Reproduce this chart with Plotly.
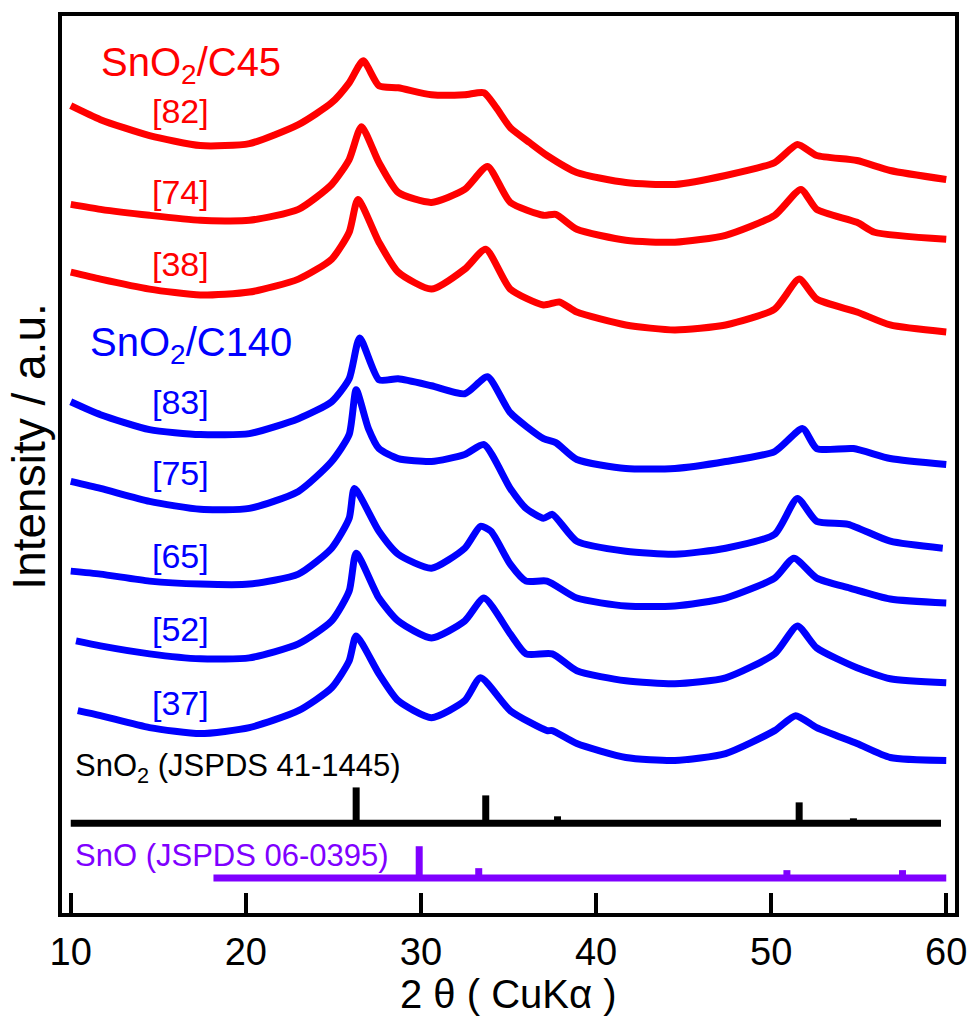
import plotly.graph_objects as go

# ---------------- data (2θ in degrees, intensity in arbitrary units incl. offsets) -------------
c45_82_x = [10.0, 11.7, 14.5, 17.4, 20.2, 23.0, 24.9, 25.9, 26.7, 27.6, 28.7, 30.6, 32.5, 33.6, 34.3, 35.1, 36.2, 37.2, 38.9, 41.7, 44.5, 47.4, 50.2, 51.5, 52.6, 54.9, 56.8, 60.0]
c45_82_y = [810, 796, 780, 770, 772, 791, 813, 833, 855, 830, 828, 821, 821, 823, 808, 788, 773, 760, 743, 733, 731, 740, 753, 771, 760, 755, 745, 736]

c45_74_x = [10.0, 11.7, 14.5, 17.4, 20.2, 23.0, 24.9, 25.9, 26.6, 27.6, 28.7, 30.6, 32.5, 33.8, 35.1, 37.0, 37.7, 38.9, 41.7, 44.5, 47.4, 50.2, 51.7, 52.6, 54.9, 55.9, 60.0]
c45_74_y = [711, 706, 700, 695, 695, 706, 731, 756, 789, 753, 723, 713, 726, 749, 713, 700, 701, 686, 675, 673, 680, 700, 726, 706, 693, 683, 676]

c45_38_x = [10.0, 11.7, 14.5, 17.4, 20.2, 23.0, 24.9, 25.9, 26.4, 27.6, 28.7, 30.6, 32.5, 33.7, 35.1, 37.0, 37.9, 38.9, 41.7, 44.5, 47.4, 50.2, 51.6, 52.6, 54.9, 56.8, 60.0]
c45_38_y = [643, 636, 626, 620, 623, 636, 656, 683, 716, 673, 643, 626, 646, 666, 626, 610, 613, 603, 590, 585, 590, 606, 636, 616, 603, 590, 583]

c140_83_x = [10.0, 11.7, 14.5, 17.4, 20.2, 23.0, 24.9, 25.9, 26.5, 27.6, 28.7, 30.6, 32.5, 33.8, 35.1, 37.0, 37.7, 38.9, 41.7, 44.5, 47.4, 50.2, 51.8, 52.6, 54.7, 56.8, 60.0]
c140_83_y = [513, 500, 485, 480, 481, 496, 513, 536, 577, 535, 536, 529, 521, 538, 502, 476, 472, 455, 446, 446, 453, 463, 486, 466, 466, 456, 450]

c140_75_x = [10.0, 11.7, 14.5, 17.4, 20.2, 23.0, 24.9, 25.9, 26.3, 27.0, 27.6, 28.7, 30.6, 32.5, 33.6, 35.1, 36.0, 37.0, 37.5, 38.9, 41.7, 44.5, 47.4, 50.2, 51.5, 52.6, 54.4, 56.8, 59.8]
c140_75_y = [433, 426, 413, 405, 406, 423, 453, 480, 525, 486, 466, 456, 453, 460, 470, 426, 406, 396, 400, 373, 363, 360, 366, 380, 416, 393, 390, 373, 366]

c140_65_x = [10.0, 11.7, 14.5, 17.4, 20.2, 23.0, 24.9, 25.9, 26.2, 27.6, 28.7, 30.6, 32.5, 33.4, 34.0, 35.1, 36.0, 37.2, 38.9, 41.7, 44.5, 47.4, 50.2, 51.3, 52.6, 54.5, 56.8, 60.0]
c140_65_y = [343, 340, 333, 330, 330, 340, 366, 396, 426, 383, 360, 346, 366, 388, 383, 350, 333, 333, 316, 308, 308, 316, 336, 356, 336, 326, 315, 311]

c140_52_x = [10.3, 11.7, 14.5, 17.4, 20.2, 23.0, 24.9, 25.9, 26.3, 27.6, 28.7, 30.6, 32.5, 33.6, 35.1, 36.0, 37.5, 38.9, 41.7, 44.5, 47.4, 50.2, 51.5, 52.6, 54.9, 56.8, 60.0]
c140_52_y = [273, 268, 260, 255, 256, 270, 293, 323, 361, 316, 293, 276, 293, 316, 280, 260, 260, 243, 233, 230, 236, 260, 288, 266, 246, 235, 231]

c140_37_x = [10.4, 11.7, 14.5, 17.4, 20.2, 23.0, 24.9, 25.9, 26.3, 27.6, 28.7, 30.6, 32.5, 33.4, 35.1, 37.2, 37.5, 38.9, 41.7, 44.5, 47.4, 50.2, 51.4, 52.6, 54.9, 56.8, 60.0]
c140_37_y = [203, 198, 186, 180, 186, 203, 226, 253, 278, 240, 213, 196, 213, 236, 203, 183, 183, 170, 156, 153, 160, 183, 198, 186, 170, 156, 153]

# reference patterns
sno2_base = 90
sno2_range = [10.0, 59.7]
sno2_pos = [26.3, 33.7, 37.8, 51.6, 54.7]
sno2_int = [36, 28, 7, 21, 5]

sno_base = 35
sno_range = [18.15, 60.0]
sno_pos = [29.9, 33.3, 37.2, 47.8, 50.9, 57.5]
sno_int = [32, 10, 3, 3, 8, 8]

tick_vals = [10, 20, 30, 40, 50, 60]

# sample labels: (text, x, y, colour, size)
labels = [
    ("SnO<sub>2</sub>/C45", 11.6, 851, "#ff0000", 40),
    ("[82]", 14.5, 805, "#ff0000", 34),
    ("[74]", 14.5, 723, "#ff0000", 34),
    ("[38]", 14.5, 651, "#ff0000", 34),
    ("SnO<sub>2</sub>/C140", 11.0, 570, "#0000ff", 40),
    ("[83]", 14.5, 513, "#0000ff", 34),
    ("[75]", 14.5, 441, "#0000ff", 34),
    ("[65]", 14.5, 358, "#0000ff", 34),
    ("[52]", 14.5, 285, "#0000ff", 34),
    ("[37]", 14.5, 211, "#0000ff", 34),
    ("SnO<sub>2</sub> (JSPDS 41-1445)", 10.15, 145, "#000000", 31),
    ("SnO (JSPDS 06-0395)", 10.1, 58, "#7f00ff", 31),
]

RED = "#ff0000"
BLUE = "#0000ff"
PURPLE = "#7f00ff"
FONT = "Liberation Sans, Arial, sans-serif"

fig = go.Figure()

curves = [
    (c45_82_x, c45_82_y, RED), (c45_74_x, c45_74_y, RED), (c45_38_x, c45_38_y, RED),
    (c140_83_x, c140_83_y, BLUE), (c140_75_x, c140_75_y, BLUE), (c140_65_x, c140_65_y, BLUE),
    (c140_52_x, c140_52_y, BLUE), (c140_37_x, c140_37_y, BLUE),
]
for xs, ys, col in curves:
    fig.add_trace(go.Scatter(x=xs, y=ys, mode="lines",
                             line=dict(color=col, width=7, shape="spline", smoothing=0.6),
                             showlegend=False, hoverinfo="skip"))


def stick_trace(base, rng, pos, ints, col):
    xs = [rng[0], rng[1], None]
    ys = [base, base, None]
    for p, h in zip(pos, ints):
        xs += [p, p, None]
        ys += [base, base + h, None]
    return go.Scatter(x=xs, y=ys, mode="lines", line=dict(color=col, width=7),
                      showlegend=False, hoverinfo="skip")


fig.add_trace(stick_trace(sno2_base, sno2_range, sno2_pos, sno2_int, "#000000"))
fig.add_trace(stick_trace(sno_base, sno_range, sno_pos, sno_int, PURPLE))

for text, x, y, col, size in labels:
    fig.add_annotation(x=x, y=y, text=text, showarrow=False, xanchor="left", yanchor="middle",
                       font=dict(family=FONT, size=size, color=col))

# axis titles as annotations for exact placement
fig.add_annotation(xref="paper", yref="paper", x=0.5, y=-0.09, text="2 θ ( CuKα )",
                   showarrow=False, xanchor="center", yanchor="middle",
                   font=dict(family=FONT, size=40, color="#000000"))
fig.add_annotation(xref="paper", yref="paper", x=-0.038, y=0.52, text="Intensity / a.u.",
                   showarrow=False, textangle=-90, xanchor="center", yanchor="middle",
                   font=dict(family=FONT, size=46, color="#000000"))

fig.update_layout(
    width=979, height=1016,
    margin=dict(l=62, r=17, t=13, b=103),
    paper_bgcolor="white", plot_bgcolor="white",
    font=dict(family=FONT, color="#000000"),
    xaxis=dict(range=[9.5, 60.5], tickvals=tick_vals, ticks="inside", ticklen=20, tickwidth=4,
               tickcolor="#000000", showline=True, linewidth=4, linecolor="#000000", mirror=True,
               showgrid=False, zeroline=False, tickfont=dict(size=38, family=FONT),
               ticklabelstandoff=2),
    yaxis=dict(range=[0, 900], showticklabels=False, ticks="", showline=True, linewidth=4,
               linecolor="#000000", mirror=True, showgrid=False, zeroline=False),
)

fig.write_html("out.html")
